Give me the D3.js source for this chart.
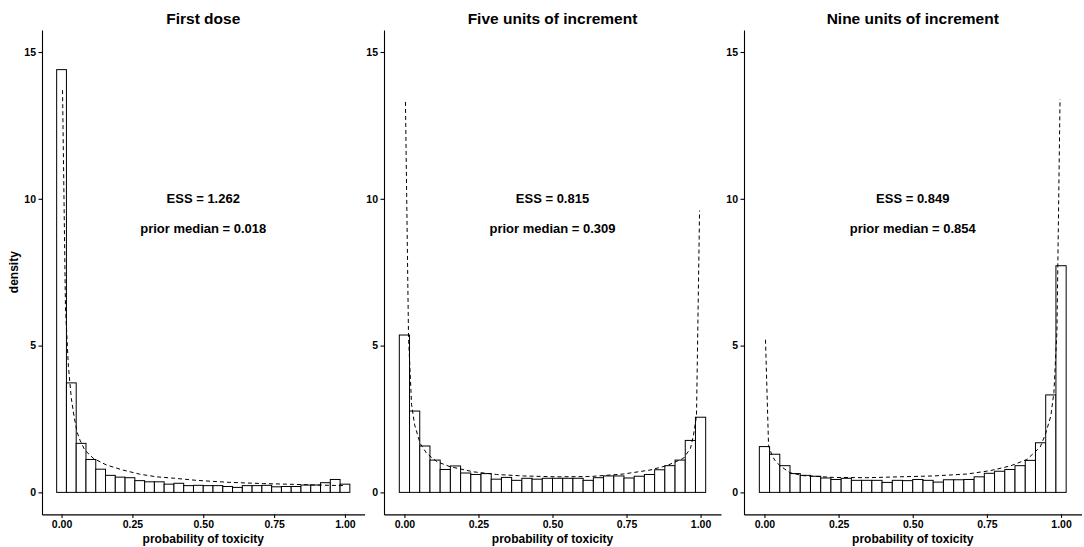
<!DOCTYPE html>
<html>
<head>
<meta charset="utf-8">
<script src="https://cdn.jsdelivr.net/npm/d3@7"></script>
<style>
  body { margin: 0; background: #fff; }
  svg text { font-family: "Liberation Sans", Arial, sans-serif; font-weight: bold; fill: #000; }
</style>
</head>
<body>
<svg id="chart" width="1084" height="547"></svg>
<script>
// histogram densities, 30 bins centred on k/29
const firstDose = [14.4, 3.73, 1.67, 1.12, 0.79, 0.58, 0.52, 0.50, 0.40, 0.36, 0.36, 0.28, 0.31, 0.23, 0.24,
  0.23, 0.23, 0.20, 0.17, 0.23, 0.23, 0.24, 0.19, 0.20, 0.20, 0.25, 0.25, 0.33, 0.44, 0.28]
const fiveUnits = [5.36, 2.77, 1.58, 1.10, 0.78, 0.90, 0.66, 0.61, 0.64, 0.45, 0.51, 0.41, 0.48, 0.45, 0.48,
  0.48, 0.48, 0.48, 0.41, 0.50, 0.56, 0.56, 0.49, 0.55, 0.61, 0.77, 0.91, 1.10, 1.77, 2.56]
const nineUnits = [1.56, 1.30, 0.91, 0.64, 0.58, 0.55, 0.49, 0.44, 0.48, 0.41, 0.41, 0.41, 0.34, 0.41, 0.40,
  0.44, 0.41, 0.35, 0.43, 0.43, 0.44, 0.53, 0.65, 0.72, 0.78, 0.91, 1.09, 1.69, 3.32, 7.72]

// prior density curves (dashed) as [x, density]
const firstDoseCurve = [[0.0035, 13.7], [0.0138, 6.3], [0.0241, 4.3], [0.0345, 3.2], [0.0448, 2.55], [0.055, 2.05],
  [0.065, 1.78], [0.082, 1.44], [0.112, 1.16], [0.159, 0.93], [0.217, 0.76], [0.276, 0.62], [0.335, 0.53],
  [0.40, 0.48], [0.476, 0.41], [0.594, 0.34], [0.712, 0.30], [0.829, 0.27], [0.947, 0.24], [0.9966, 0.23]]
const fiveUnitsCurve = [[0.0035, 13.3], [0.0138, 5.3], [0.0241, 3.0], [0.0345, 2.3], [0.053, 1.67], [0.075, 1.33],
  [0.109, 1.05], [0.154, 0.875], [0.233, 0.70], [0.311, 0.61], [0.401, 0.56], [0.514, 0.53], [0.627, 0.54],
  [0.739, 0.625], [0.829, 0.76], [0.886, 0.91], [0.942, 1.16], [0.966, 1.5], [0.976, 1.95], [0.9862, 2.6], [0.9966, 9.6]]
const nineUnitsCurve = [[0.0035, 5.2], [0.0138, 1.6], [0.0241, 1.3], [0.0345, 1.1], [0.053, 0.90], [0.086, 0.67],
  [0.131, 0.57], [0.232, 0.51], [0.345, 0.50], [0.457, 0.53], [0.57, 0.56], [0.683, 0.625], [0.761, 0.74],
  [0.829, 0.90], [0.885, 1.12], [0.930, 1.55], [0.948, 2.0], [0.9655, 2.6], [0.9759, 3.4], [0.9862, 5.5], [0.9966, 13.4]]

const titles = ["First dose", "Five units of increment", "Nine units of increment"]
const essLabels = ["ESS = 1.262", "ESS = 0.815", "ESS = 0.849"]
const medianLabels = ["prior median = 0.018", "prior median = 0.309", "prior median = 0.854"]
const xTicks = [0, 0.25, 0.5, 0.75, 1]
const yTicks = [0, 5, 10, 15]

const panels = [
  {left: 42, right: 364.5, bars: firstDose, curve: firstDoseCurve, ylab: true},
  {left: 384, right: 721, bars: fiveUnits, curve: fiveUnitsCurve},
  {left: 744, right: 1081.5, bars: nineUnits, curve: nineUnitsCurve}
]

const svg = d3.select("#chart")
const plotTop = 30, plotBottom = 514.4
const bw = 1 / 29
const xlo = -bw / 2, xhi = 1 + bw / 2
const xpad = (xhi - xlo) * 0.05

panels.forEach(function(p, i){
  var x = d3.scaleLinear().domain([xlo - xpad, xhi + xpad]).range([p.left, p.right])
  var y = d3.scaleLinear().domain([-0.75, 15.75]).range([plotBottom, plotTop])
  var g = svg.append("g")

  g.selectAll("rect")
    .data(p.bars)
    .enter()
    .append("rect")
    .attr("x", function(d, k){ return x(k * bw - bw / 2) })
    .attr("width", function(d, k){ return x(k * bw + bw / 2) - x(k * bw - bw / 2) })
    .attr("y", function(d){ return y(d) })
    .attr("height", function(d){ return y(0) - y(d) })
    .attr("fill", "white")
    .attr("stroke", "black")
    .attr("stroke-width", 1)

  var line = d3.line().x(function(d){ return x(d[0]) }).y(function(d){ return y(d[1]) })
  g.append("path")
    .attr("d", line(p.curve))
    .attr("fill", "none")
    .attr("stroke", "black")
    .attr("stroke-width", 1)
    .attr("stroke-dasharray", "4,3")

  g.append("g")
    .attr("transform", "translate(0," + plotBottom + ")")
    .call(d3.axisBottom(x).tickValues(xTicks).tickFormat(d3.format(".2f")).tickSize(3.5).tickSizeOuter(0).tickPadding(2.5))
  g.append("g")
    .attr("transform", "translate(" + p.left + ",0)")
    .call(d3.axisLeft(y).tickValues(yTicks).tickSize(3.5).tickSizeOuter(0).tickPadding(2.5))
  g.selectAll(".tick text").attr("font-size", "10.5px").attr("font-family", null).attr("fill", "#000")
  g.selectAll(".domain, .tick line").attr("stroke", "#000").attr("stroke-width", 1.1)

  var cx = (p.left + p.right) / 2
  g.append("text").attr("x", cx).attr("y", 24).attr("text-anchor", "middle")
    .attr("font-size", "15.5px").text(titles[i])
  g.append("text").attr("x", cx).attr("y", 543).attr("text-anchor", "middle")
    .attr("font-size", "12px").text("probability of toxicity")
  g.append("text").attr("x", x(0.5)).attr("y", y(10)).attr("dy", "0.35em").attr("text-anchor", "middle")
    .attr("font-size", "13px").text(essLabels[i])
  g.append("text").attr("x", x(0.5)).attr("y", y(9)).attr("dy", "0.35em").attr("text-anchor", "middle")
    .attr("font-size", "13px").text(medianLabels[i])

  if (p.ylab) {
    g.append("text")
      .attr("transform", "translate(18," + (plotTop + plotBottom) / 2 + ") rotate(-90)")
      .attr("text-anchor", "middle")
      .attr("font-size", "12px")
      .text("density")
  }
})
</script>
</body>
</html>
